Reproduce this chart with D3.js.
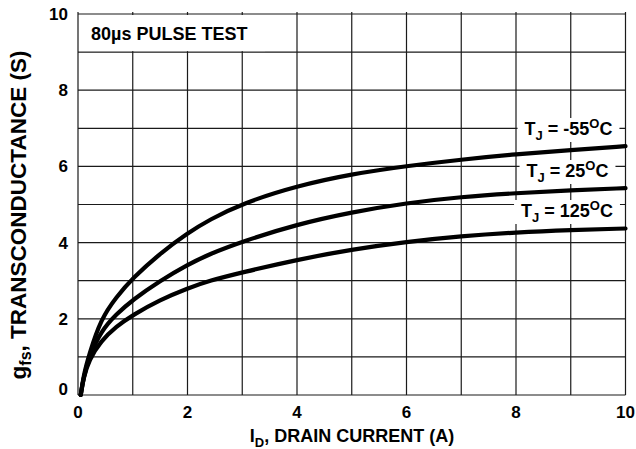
<!DOCTYPE html>
<html><head><meta charset="utf-8">
<script src="https://cdn.jsdelivr.net/npm/d3@7"></script>
<style>body{margin:0;background:#fff}svg{display:block}text{font-family:"Liberation Sans",Arial,sans-serif;font-weight:bold;fill:#000}</style>
</head><body>
<script>
const xTicks = [0,2,4,6,8,10];
const yTicks = [0,2,4,6,8,10];
const gridX = [0,1,2,3,4,5,6,7,8,9,10];
const gridY = [0,1,2,3,4,5,6,7,8,9,10];
const current = [0.05,0.1,0.2,0.42,0.7,1,1.5,2,2.4,3,4,5,6,7,8,9,10];
const gfsM55 = [0,0.5,1.05,2.0,2.57,3.07,3.72,4.25,4.6,5.03,5.49,5.8,6.01,6.18,6.32,6.43,6.53];
const gfs25  = [0,0.45,0.98,1.68,2.12,2.5,3.0,3.42,3.7,4.03,4.48,4.8,5.04,5.2,5.3,5.37,5.43];
const gfs125 = [0,0.45,0.92,1.42,1.8,2.1,2.5,2.8,3.0,3.22,3.55,3.82,4.02,4.17,4.27,4.33,4.37];
const seriesLabels = [["T","J"," = -55","O","C"],["T","J"," = 25","O","C"],["T","J"," = 125","O","C"]];

const W=636,H=449;
const svg=d3.select("body").append("svg").attr("width",W).attr("height",H);
const x=d3.scaleLinear().domain([0,10]).range([78,625.5]);
const y=d3.scaleLinear().domain([0,10]).range([395,14]);

const g=svg.append("g");
// grid
g.selectAll(".gx").data(gridX).join("line").attr("x1",d=>x(d)).attr("x2",d=>x(d))
 .attr("y1",y(0)).attr("y2",y(10)-2).attr("stroke","#1a1a1a").attr("stroke-width",1.2);
g.selectAll(".gy").data(gridY).join("line").attr("y1",d=>y(d)).attr("y2",d=>y(d))
 .attr("x1",x(0)).attr("x2",x(10)).attr("stroke","#1a1a1a").attr("stroke-width",1.2);

// pulse test box
svg.append("rect").attr("x",x(0)+1).attr("y",y(10)+1).attr("width",x(3.4)-x(0)).attr("height",y(9)-y(10)-2).attr("fill","#fff");
svg.append("text").attr("x",91).attr("y",40).attr("font-size",18).text("80µs PULSE TEST");

// curves
const series=[gfsM55,gfs25,gfs125];
const line=d3.line().x(d=>x(d[0])).y(d=>y(d[1])).curve(d3.curveBasis);
series.forEach(s=>{
  svg.append("path").datum(current.map((c,i)=>[c,s[i]])).attr("d",line)
   .attr("fill","none").attr("stroke","#000").attr("stroke-width",4.2).attr("stroke-linecap","round");
});

// series labels
const labPos=[[568.5,135],[567.5,177],[567,217]];
seriesLabels.forEach((L,i)=>{
  const gg=svg.append("g");
  const r=gg.append("rect").attr("fill","#fff");
  const t=gg.append("text").attr("x",labPos[i][0]).attr("y",labPos[i][1]).attr("text-anchor","middle").attr("font-size",18);
  t.append("tspan").text(L[0]);
  t.append("tspan").attr("font-size",13).attr("dy",5).text(L[1]);
  t.append("tspan").attr("dy",-5).text(L[2]);
  t.append("tspan").attr("font-size",13).attr("dy",-7).text(L[3]);
  t.append("tspan").attr("dy",7).text(L[4]);
  const b=t.node().getBBox();
  r.attr("x",b.x-7).attr("y",labPos[i][1]-17).attr("width",b.width+14).attr("height",24);
});

// tick labels
svg.selectAll(".xt").data(xTicks).join("text").attr("x",d=>x(d)).attr("y",418)
 .attr("text-anchor","middle").attr("font-size",17).text(d=>d);
svg.selectAll(".yt").data(yTicks).join("text").attr("x",68).attr("y",d=>y(d)+6-(d===0?6:0))
 .attr("text-anchor","end").attr("font-size",17).text(d=>d);

// axis titles
const xt=svg.append("text").attr("x",352).attr("y",442).attr("text-anchor","middle").attr("font-size",18);
xt.append("tspan").text("I");
xt.append("tspan").attr("font-size",13).attr("dy",5).text("D");
xt.append("tspan").attr("dy",-5).text(", DRAIN CURRENT (A)");

const yt=svg.append("text").attr("transform","translate(26,215) rotate(-90)").attr("text-anchor","middle").attr("font-size",22.5);
yt.append("tspan").text("g");
yt.append("tspan").attr("font-size",16).attr("dy",5).text("fs");
yt.append("tspan").attr("dy",-5).text(", TRANSCONDUCTANCE (S)");
</script>
</body></html>
